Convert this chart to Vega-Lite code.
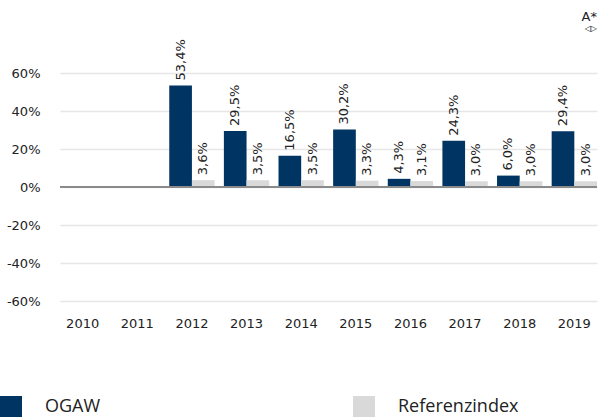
{
  "$schema": "https://vega.github.io/schema/vega-lite/v6.json",
  "width": 537,
  "height": 228,
  "autosize": {"type": "none"},
  "padding": {"left": 60, "top": 73, "right": 3, "bottom": 116},
  "background": "white",
  "config": {
    "view": {"stroke": null},
    "locale": {
      "number": {"decimal": ",", "thousands": ".", "grouping": [3], "currency": ["", "%"], "minus": "-"}
    },
    "font": "DejaVu Sans"
  },
  "title": {
    "text": "A*",
    "subtitle": "◁▷",
    "anchor": "end",
    "orient": "top",
    "frame": "group",
    "offset": 6,
    "font": "DejaVu Sans",
    "fontSize": 13,
    "fontWeight": "normal",
    "color": "#222",
    "subtitleFont": "DejaVu Sans",
    "subtitleFontSize": 8,
    "subtitleColor": "#222",
    "subtitlePadding": 1
  },
  "data": {
    "values": [
      {"year": "2012", "series": "OGAW", "value": 53.4},
      {"year": "2012", "series": "Referenzindex", "value": 3.6},
      {"year": "2013", "series": "OGAW", "value": 29.5},
      {"year": "2013", "series": "Referenzindex", "value": 3.5},
      {"year": "2014", "series": "OGAW", "value": 16.5},
      {"year": "2014", "series": "Referenzindex", "value": 3.5},
      {"year": "2015", "series": "OGAW", "value": 30.2},
      {"year": "2015", "series": "Referenzindex", "value": 3.3},
      {"year": "2016", "series": "OGAW", "value": 4.3},
      {"year": "2016", "series": "Referenzindex", "value": 3.1},
      {"year": "2017", "series": "OGAW", "value": 24.3},
      {"year": "2017", "series": "Referenzindex", "value": 3.0},
      {"year": "2018", "series": "OGAW", "value": 6.0},
      {"year": "2018", "series": "Referenzindex", "value": 3.0},
      {"year": "2019", "series": "OGAW", "value": 29.4},
      {"year": "2019", "series": "Referenzindex", "value": 3.0}
    ]
  },
  "encoding": {
    "x": {
      "field": "year",
      "type": "nominal",
      "scale": {"domain": ["2010","2011","2012","2013","2014","2015","2016","2017","2018","2019"], "paddingInner": 0.17, "paddingOuter": 0},
      "axis": {"title": null, "labelAngle": 0, "domain": false, "ticks": false, "labelPadding": 16, "labelFontSize": 13, "labelColor": "#222", "labelFont": "DejaVu Sans"}
    },
    "xOffset": {"field": "series", "type": "nominal", "scale": {"domain": ["OGAW", "Referenzindex"], "paddingInner": 0, "paddingOuter": 0}},
    "y": {
      "field": "value",
      "type": "quantitative",
      "scale": {"domain": [-60, 60], "nice": false},
      "axis": {"title": null, "values": [-60,-40,-20,0,20,40,60], "format": "$.0f", "domain": false, "ticks": false, "labelPadding": 20, "labelFontSize": 13, "labelColor": "#222", "gridColor": "#e6e6e6", "gridWidth": 1.5, "labelFont": "DejaVu Sans"}
    }
  },
  "layer": [
    {
      "mark": {"type": "bar"},
      "encoding": {
        "color": {
          "field": "series",
          "type": "nominal",
          "scale": {"domain": ["OGAW", "Referenzindex"], "range": ["#003462", "#d9d9d9"]},
          "legend": {
            "title": null,
            "orient": "none",
            "legendX": -60,
            "legendY": 323,
            "direction": "horizontal",
            "columns": 2,
            "columnPadding": 252,
            "symbolType": "square",
            "symbolSize": 484,
            "symbolStrokeWidth": 0,
            "labelFont": "Open Sans",
            "labelFontSize": 18,
            "labelColor": "#222",
            "labelOffset": 23,
            "padding": 0
          }
        }
      }
    },
    {
      "mark": {"type": "text", "angle": 270, "align": "left", "baseline": "middle", "dx": 5, "fontSize": 13, "font": "DejaVu Sans", "color": "#222"},
      "encoding": {
        "text": {"field": "value", "type": "quantitative", "format": "$.1f"}
      }
    },
    {
      "mark": {"type": "rule", "color": "#8a8a8a", "strokeWidth": 2},
      "encoding": {"y": {"datum": 0}, "x": null, "xOffset": null}
    }
  ]
}
